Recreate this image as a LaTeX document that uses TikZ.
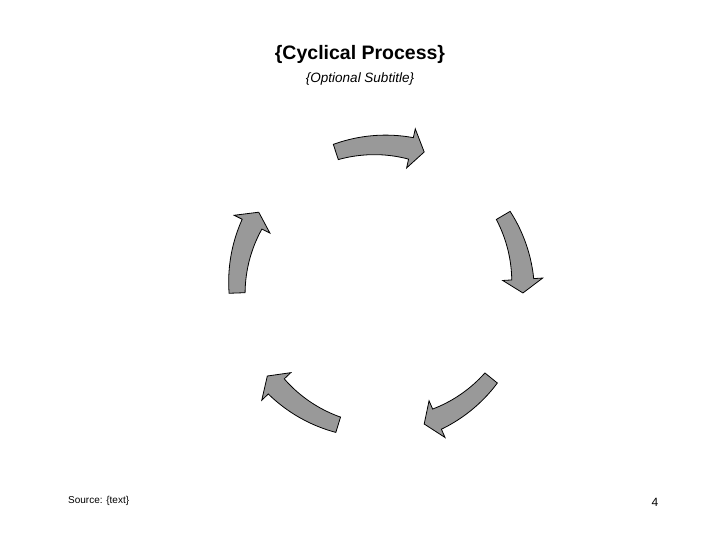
\documentclass[tikz,border=0pt]{standalone}
\usepackage{fontspec}
\setmainfont{Liberation Sans}

\begin{document}
\begin{tikzpicture}[x=1pt, y=1pt,
  piece/.style={fill={rgb,255:red,153;green,153;blue,153}, draw=black, line width=0.8pt},
  txt/.style={inner sep=0pt, anchor=base}]
  \useasboundingbox (0,0) rectangle (720,540);
  \node[txt, font=\bfseries\fontsize{19.5}{22}\selectfont] (title) at (360,480) {\{Cyclical Process\}};
  \node[txt, font=\itshape\fontsize{13.5}{16}\selectfont] (subtitle) at (360,457) {\{Optional Subtitle\}};
  \node[txt, anchor=base west, font=\fontsize{10}{12}\selectfont] (source) at (68,36) {Source: \{text\}};
  \node[txt, font=\fontsize{12}{14}\selectfont] (pagenum) at (655,33) {4};
  % five arrows round the cycle, start angle / tip angle
  \foreach \sa/\ta in {108/72, 30.5/-2, -39/-72, -107/-142, 182/148}{
    \pgfmathsetmacro{\hb}{\ta+5.5}
    \filldraw[piece]
      plot[domain=\sa:\hb, samples=30] ({380+(151+3*((\sa)-(\x))/((\sa)-(\hb)))*cos(\x)}, {252+(151+3*((\sa)-(\x))/((\sa)-(\hb)))*sin(\x)})
      -- ({380+163*cos(\hb)}, {252+163*sin(\hb)})
      -- ({380+143*cos(\ta)}, {252+143*sin(\ta)})
      -- ({380+123*cos(\hb)}, {252+123*sin(\hb)})
      -- plot[domain=\hb:\sa, samples=30] ({380+(135-3*((\sa)-(\x))/((\sa)-(\hb)))*cos(\x)}, {252+(135-3*((\sa)-(\x))/((\sa)-(\hb)))*sin(\x)})
      -- cycle;
  }
\end{tikzpicture}
\end{document}
